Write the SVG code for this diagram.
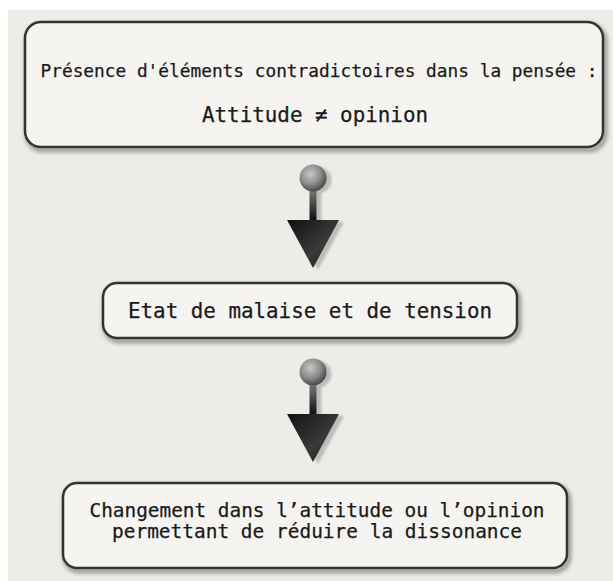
<svg xmlns="http://www.w3.org/2000/svg" width="613" height="581" viewBox="0 0 613 581">
<defs>
<style>
.box{fill:#f5f4f0;stroke:#333;stroke-width:2.5}
.shadow{fill:none;stroke:#444;stroke-width:4;opacity:.6}
.t{font-family:"DejaVu Sans Mono","Liberation Mono",monospace;fill:#1a1a1a;stroke:#1a1a1a;stroke-width:0.25;text-anchor:middle}
</style>
<filter id="blur" x="-10%" y="-20%" width="120%" height="140%"><feGaussianBlur stdDeviation="2"/></filter>
<filter id="sblur" x="-30%" y="-30%" width="160%" height="160%"><feGaussianBlur stdDeviation="1.2"/></filter>
<radialGradient id="ball" cx="0.4" cy="0.35" r="0.65">
<stop offset="0" stop-color="#c8c8c8"/><stop offset="0.6" stop-color="#8a8a8a"/><stop offset="1" stop-color="#4a4a4a"/>
</radialGradient>
<linearGradient id="stem" x1="0" y1="0" x2="0" y2="1">
<stop offset="0" stop-color="#9a9a9a"/><stop offset="1" stop-color="#111"/>
</linearGradient>
<linearGradient id="tri" x1="0" y1="0" x2="1" y2="1">
<stop offset="0" stop-color="#111"/><stop offset="0.6" stop-color="#3a3a3a"/><stop offset="1" stop-color="#111"/>
</linearGradient>
<g id="arrow">
<g fill="#a8a8a8" opacity=".7" filter="url(#sblur)" transform="translate(5,2)">
<path d="M-26 0 L26 0 L0 48 Z"/>
<rect x="-3.5" y="-40" width="7" height="40"/>
<circle cx="0" cy="-42" r="13.5"/>
</g>
<rect x="-3.5" y="-40" width="7" height="40" fill="url(#stem)"/>
<circle cx="0" cy="-42" r="13.5" fill="url(#ball)"/>
<path d="M-26 0 L26 0 L0 48 Z" fill="url(#tri)"/>
</g>
</defs>
<rect x="0" y="0" width="613" height="581" fill="#ffffff"/>
<rect x="8" y="10" width="605" height="571" fill="#edece7"/>

<g id="connectors">
<use href="#arrow" x="313" y="220"/>
<use href="#arrow" x="313" y="414"/>
</g>

<g id="node1">
<rect class="shadow" x="27" y="25" width="578" height="125" rx="16" filter="url(#blur)"/>
<rect class="box" x="25" y="22" width="578" height="125" rx="16"/>
<text class="t" x="319" y="77" font-size="17.8" textLength="557" lengthAdjust="spacingAndGlyphs">Présence d'éléments contradictoires dans la pensée :</text>
<text class="t" x="315" y="122" font-size="21" textLength="226" lengthAdjust="spacingAndGlyphs">Attitude ≠ opinion</text>
</g>

<g id="node2">
<rect class="shadow" x="105" y="286" width="414" height="55" rx="14" filter="url(#blur)"/>
<rect class="box" x="103" y="283" width="414" height="55" rx="14"/>
<text class="t" x="310" y="318" font-size="20.8" textLength="364" lengthAdjust="spacingAndGlyphs">Etat de malaise et de tension</text>
</g>

<g id="node3">
<rect class="shadow" x="65" y="486" width="504" height="85" rx="14" filter="url(#blur)"/>
<rect class="box" x="63" y="483" width="504" height="85" rx="14"/>
<text class="t" x="317" y="517" font-size="19.4" textLength="455" lengthAdjust="spacingAndGlyphs">Changement dans l’attitude ou l’opinion</text>
<text class="t" x="317" y="538" font-size="19.4" textLength="410" lengthAdjust="spacingAndGlyphs">permettant de réduire la dissonance</text>
</g>
</svg>
